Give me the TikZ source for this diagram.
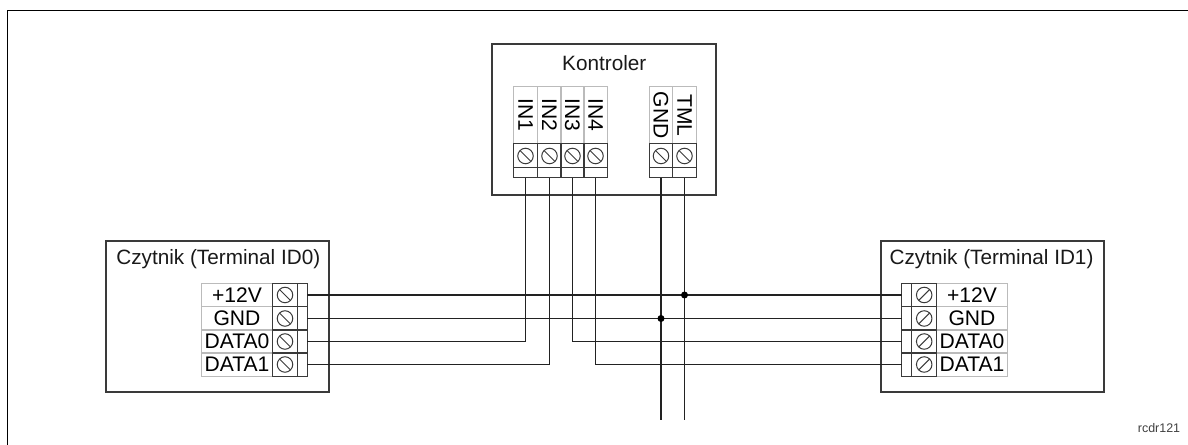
\documentclass[tikz,border=0pt]{standalone}
\usepackage{fontspec}
\setmainfont{Liberation Sans}
\usetikzlibrary{positioning}

\definecolor{wirecol}{HTML}{222222}
\definecolor{boxcol}{HTML}{3A3A3A}
\definecolor{cellcol}{HTML}{BBBBBB}

\begin{document}
\begin{tikzpicture}[
    x=0.02cm, y=-0.02cm,
    box/.style={rectangle, draw=boxcol, line width=0.034cm, inner sep=0pt, outer sep=0pt},
    title/.style={font=\fontsize{11.8}{13}\selectfont, text=black!90, inner sep=0pt},
    cell/.style={rectangle, inner sep=0pt, outer sep=0pt, font=\fontsize{12}{13}\selectfont},
    pinlabel/.style={cell, draw=cellcol, line width=0.02cm, rotate=-90, minimum width=1.146cm, minimum height=0.466cm},
    pinscrew/.style={cell, draw=boxcol, line width=0.02cm, minimum width=0.466cm, minimum height=0.48cm, screw=#1},
    pintail/.style={cell, draw=boxcol, line width=0.02cm, minimum width=0.466cm, minimum height=0.2cm},
    rowlabel/.style={cell, draw=cellcol, line width=0.02cm, minimum width=1.42cm, minimum height=0.466cm},
    rowscrew/.style={cell, draw=boxcol, line width=0.024cm, minimum width=0.5cm, minimum height=0.466cm, screw=#1},
    rowtail/.style={cell, draw=boxcol, line width=0.024cm, minimum width=0.2cm, minimum height=0.466cm},
    screw/.style={path picture={
        \draw[boxcol, line width=0.02cm] (path picture bounding box.center) circle (0.155cm);
        \draw[boxcol, line width=0.02cm] (path picture bounding box.center) ++(#1:0.155cm) -- ++(#1+180:0.31cm);
    }},
    wire/.style={draw=wirecol, line width=0.032cm},
    mainwire/.style={draw=wirecol, line width=0.036cm},
    dot/.style={circle, fill=black, inner sep=0pt, minimum size=0.14cm}
]
\useasboundingbox (0,0) rectangle (1188,445);

% Frame
\coordinate (framea) at (7.5,445);
\coordinate (frameb) at (1188,10.5);
\draw[line width=0.034cm] (framea) |- (frameb);

% Boxes
\node[box, minimum width=4.48cm, minimum height=3.02cm] (ctl) at (604,119.5) {};
\node[title] (ctltitle) at (604.3,63) {Kontroler};
\node[box, minimum width=4.46cm, minimum height=3.02cm] (rd0) at (217.5,316.5) {};
\node[title] (rd0title) at (218.3,259.5) {Czytnik (Terminal ID0)};
\node[box, minimum width=4.46cm, minimum height=3.02cm] (rd1) at (992.3,316.5) {};
\node[title] (rd1title) at (991.5,259.5) {Czytnik (Terminal ID1)};

% Controller terminals
\node[pinlabel] (in1lab) at (525.5,115.3) {IN1};
\node[pinlabel] (in2lab) at (549.5,115.3) {IN2};
\node[pinlabel] (in3lab) at (572.5,115.3) {IN3};
\node[pinlabel] (in4lab) at (595.5,115.3) {IN4};
\node[pinlabel] (gndlab) at (661,115.3) {GND};
\node[pinlabel] (tmllab) at (684.5,115.3) {TML};
\node[pinscrew=135] (in1screw) at (525.5,156) {};
\node[pinscrew=135] (in2screw) at (549.5,156) {};
\node[pinscrew=135] (in3screw) at (572.5,156) {};
\node[pinscrew=135] (in4screw) at (595.5,156) {};
\node[pinscrew=135] (gndscrew) at (661,156) {};
\node[pinscrew=135] (tmlscrew) at (684.5,156) {};
\node[pintail] (in1) at (525.5,173) {};
\node[pintail] (in2) at (549.5,173) {};
\node[pintail] (in3) at (572.5,173) {};
\node[pintail] (in4) at (595.5,173) {};
\node[pintail] (gnd) at (661,173) {};
\node[pintail] (tml) at (684.5,173) {};

% Left reader terminals
\node[rowlabel] (lplus) at (237,295) {+12V};
\node[rowlabel] (lgnd) at (237,318.5) {GND};
\node[rowlabel] (ldata0) at (237,341.5) {DATA0};
\node[rowlabel] (ldata1) at (237,364.5) {DATA1};
\node[rowscrew=135] (lplusscrew) at (285,295) {};
\node[rowscrew=135] (lgndscrew) at (285,318.5) {};
\node[rowscrew=135] (ldata0screw) at (285,341.5) {};
\node[rowscrew=135] (ldata1screw) at (285,364.5) {};
\node[rowtail] (lplustail) at (302.3,295) {};
\node[rowtail] (lgndtail) at (302.3,318.5) {};
\node[rowtail] (ldata0tail) at (302.3,341.5) {};
\node[rowtail] (ldata1tail) at (302.3,364.5) {};

% Right reader terminals
\node[rowlabel] (rplus) at (972,295) {+12V\hspace{0.26cm}};
\node[rowlabel] (rgnd) at (972,318.5) {GND\hspace{0.2cm}};
\node[rowlabel] (rdata0) at (972,341.5) {DATA0};
\node[rowlabel] (rdata1) at (972,364.5) {DATA1};
\node[rowscrew=45] (rplusscrew) at (924.2,295) {};
\node[rowscrew=45] (rgndscrew) at (924.2,318.5) {};
\node[rowscrew=45] (rdata0screw) at (924.2,341.5) {};
\node[rowscrew=45] (rdata1screw) at (924.2,364.5) {};
\node[rowtail] (rplustail) at (906.7,295) {};
\node[rowtail] (rgndtail) at (906.7,318.5) {};
\node[rowtail] (rdata0tail) at (906.7,341.5) {};
\node[rowtail] (rdata1tail) at (906.7,364.5) {};

% Wires
\draw[mainwire] (lplustail.east) -- (rplustail.west);
\draw[wire] (lgndtail.east) -- (rgndtail.west);
\draw[wire] (ldata0tail.east) -| (in1.south);
\draw[wire] (ldata1tail.east) -| (in2.south);
\draw[wire] (rdata0tail.west) -| (in3.south);
\draw[wire] (rdata1tail.west) -| (in4.south);

% Supply lines leaving the picture
\coordinate (gndend) at (661,420);
\coordinate (tmlend) at (684.5,420);
\draw[mainwire] (gnd.south) -- (gndend);
\draw[wire] (tml.south) -- (tmlend);
\node[dot] (gndjoint) at (gnd |- lgndtail) {};
\node[dot] (tmljoint) at (tml |- lplustail) {};

\node[font=\fontsize{7.1}{8}\selectfont, text=black!75, inner sep=0pt] (tag) at (1159,428) {rcdr121};

\end{tikzpicture}
\end{document}
